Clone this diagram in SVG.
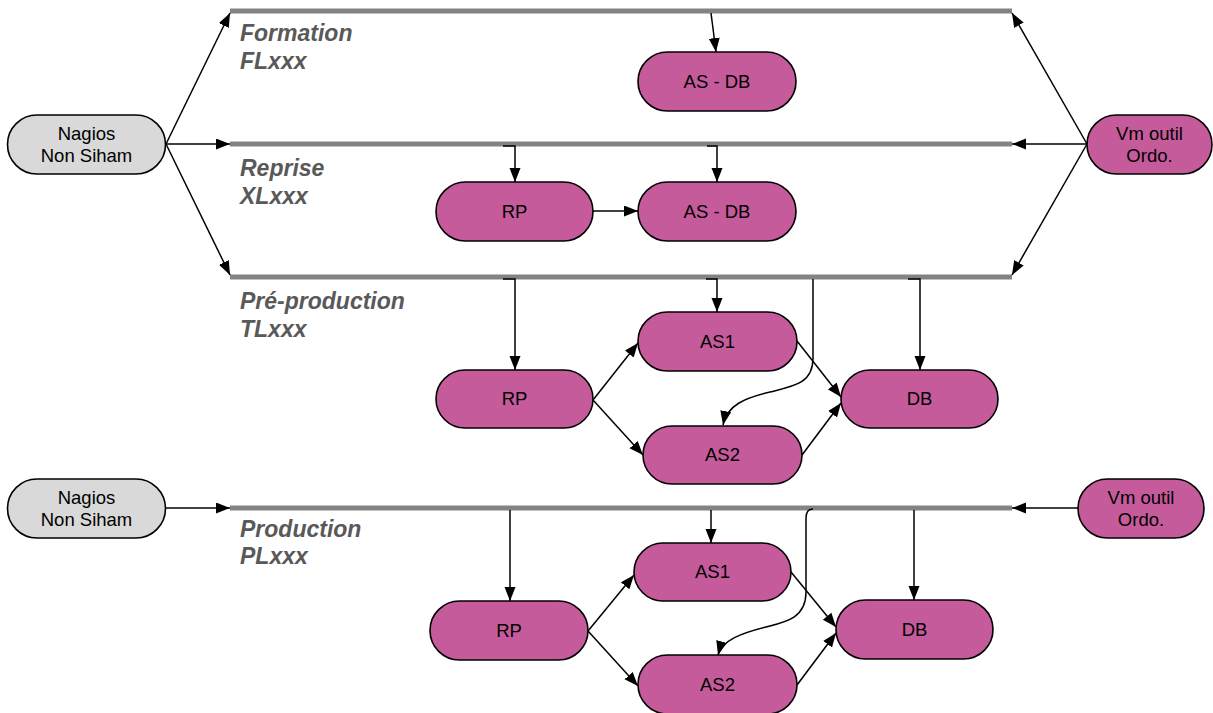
<svg xmlns="http://www.w3.org/2000/svg" width="1213" height="713" viewBox="0 0 1213 713">
<style>
.bar{stroke:#838383;stroke-width:5;fill:none}
.node{fill:#C55B9B;stroke:#000;stroke-width:1.6}
.grey{fill:#D9D9D9;stroke:#000;stroke-width:1.6}
.nt{font-family:"Liberation Sans",Arial,sans-serif;font-size:18.5px;fill:#000;text-anchor:middle}
.lbl{font-family:"Liberation Sans",Arial,sans-serif;font-size:23px;font-weight:bold;font-style:italic;fill:#595959}
.c{stroke:#000;stroke-width:1.5;fill:none;marker-end:url(#ah)}
</style>
<defs>
<marker id="ah" markerUnits="userSpaceOnUse" markerWidth="16" markerHeight="12" refX="14" refY="5.5" orient="auto">
<path d="M0,0 L14,5.5 L0,11 z" fill="#000"/>
</marker>
</defs>
<rect width="1213" height="713" fill="#fff"/>
<g id="bars">
<line class="bar" x1="230" y1="11" x2="1012" y2="11"/>
<line class="bar" x1="230" y1="144" x2="1012" y2="144"/>
<line class="bar" x1="230" y1="277" x2="1012" y2="277"/>
<line class="bar" x1="230" y1="508" x2="1012" y2="508"/>
</g>
<g id="labels">
<text class="lbl" x="240" y="41">Formation</text>
<text class="lbl" x="240" y="69">FLxxx</text>
<text class="lbl" x="240" y="176">Reprise</text>
<text class="lbl" x="240" y="204">XLxxx</text>
<text class="lbl" x="240" y="309">Pré-production</text>
<text class="lbl" x="240" y="337">TLxxx</text>
<text class="lbl" x="240" y="537">Production</text>
<text class="lbl" x="240" y="564">PLxxx</text>
</g>
<g id="connectors">
<line class="c" x1="166" y1="144" x2="230" y2="13"/>
<line class="c" x1="166" y1="144" x2="230" y2="144"/>
<line class="c" x1="166" y1="144" x2="230" y2="275"/>
<line class="c" x1="1087" y1="144" x2="1012" y2="13"/>
<line class="c" x1="1087" y1="144" x2="1012" y2="144"/>
<line class="c" x1="1087" y1="144" x2="1012" y2="275"/>
<line class="c" x1="166" y1="508" x2="230" y2="508"/>
<line class="c" x1="1078" y1="508" x2="1012" y2="508"/>
<path class="c" d="M711,13 L716,52"/>
<path class="c" d="M503,146 H515 V182"/>
<path class="c" d="M707,146 H717 V182"/>
<path class="c" d="M593,211 H638"/>
<path class="c" d="M503,279 H515 V370"/>
<path class="c" d="M706,279 H717 V312"/>
<path class="c" d="M908,279 H920 V370"/>
<path class="c" d="M813,279 V358 C813,383 795,386 770,392 C745,398 727,405 723,425"/>
<path class="c" d="M593,400 L638,343"/>
<path class="c" d="M593,400 L643,455"/>
<path class="c" d="M797,341 L841,397"/>
<path class="c" d="M802,455 L841,403"/>
<path class="c" d="M510,510 V601"/>
<path class="c" d="M711,510 V543"/>
<path class="c" d="M914,510 V600"/>
<path class="c" d="M813,509 C808,509 806,512 806,518 V592 C806,618 786,622 766,627 C742,633 722,640 718,655"/>
<path class="c" d="M588,631 L634,575"/>
<path class="c" d="M588,631 L638,686"/>
<path class="c" d="M791,572 L836,627"/>
<path class="c" d="M797,685 L836,633"/>
</g>
<g id="nagios-top"><rect class="grey" x="7.5" y="115" width="158" height="59" rx="29.5"/><text class="nt" x="86.5" y="140">Nagios</text><text class="nt" x="86.5" y="162">Non Siham</text></g>
<g id="vm-top"><rect class="node" x="1087" y="115" width="125" height="59" rx="29.5"/><text class="nt" x="1149.5" y="140">Vm outil</text><text class="nt" x="1149.5" y="162">Ordo.</text></g>
<g id="f-asdb"><rect class="node" x="638" y="52" width="158" height="59" rx="29.5"/><text class="nt" x="717" y="88">AS - DB</text></g>
<g id="r-rp"><rect class="node" x="436" y="182" width="157" height="59" rx="29.5"/><text class="nt" x="514.5" y="218">RP</text></g>
<g id="r-asdb"><rect class="node" x="638" y="182" width="158" height="59" rx="29.5"/><text class="nt" x="717" y="218">AS - DB</text></g>
<g id="t-rp"><rect class="node" x="436" y="370" width="157" height="58" rx="29"/><text class="nt" x="514.5" y="405">RP</text></g>
<g id="t-as1"><rect class="node" x="638" y="312" width="159" height="59" rx="29.5"/><text class="nt" x="717.5" y="348">AS1</text></g>
<g id="t-as2"><rect class="node" x="643" y="426" width="159" height="58" rx="29"/><text class="nt" x="722.5" y="461">AS2</text></g>
<g id="t-db"><rect class="node" x="841" y="370" width="157" height="58" rx="29"/><text class="nt" x="919.5" y="405">DB</text></g>
<g id="nagios-bot"><rect class="grey" x="7.5" y="479" width="158" height="59" rx="29.5"/><text class="nt" x="86.5" y="504">Nagios</text><text class="nt" x="86.5" y="526">Non Siham</text></g>
<g id="vm-bot"><rect class="node" x="1078" y="479" width="126" height="59" rx="29.5"/><text class="nt" x="1141" y="504">Vm outil</text><text class="nt" x="1141" y="526">Ordo.</text></g>
<g id="p-rp"><rect class="node" x="430" y="601" width="158" height="59" rx="29.5"/><text class="nt" x="509" y="637">RP</text></g>
<g id="p-as1"><rect class="node" x="634" y="543" width="157" height="58" rx="29"/><text class="nt" x="712.5" y="578">AS1</text></g>
<g id="p-as2"><rect class="node" x="638" y="655" width="159" height="59" rx="29.5"/><text class="nt" x="717.5" y="691">AS2</text></g>
<g id="p-db"><rect class="node" x="836" y="600" width="157" height="59" rx="29.5"/><text class="nt" x="914.5" y="636">DB</text></g>
</svg>
